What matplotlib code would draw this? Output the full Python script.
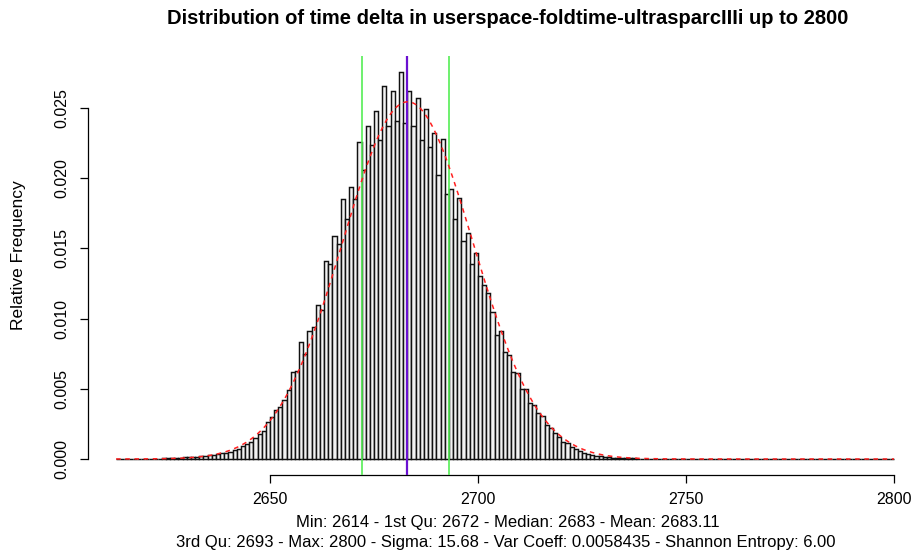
import numpy as np
import matplotlib
matplotlib.use("Agg")
import matplotlib.pyplot as plt

plt.rcParams['font.family'] = ['Liberation Sans', 'DejaVu Sans']

# value v is counted in bin (v-1, v]
values = np.arange(2614, 2801)
rel_freq = [
    0.00002, 0.00000, 0.00001, 0.00001, 0.00001, 0.00001, 0.00002, 0.00002, 0.00002, 0.00003,
    0.00003, 0.00004, 0.00005, 0.00006, 0.00008, 0.00010, 0.00011, 0.00013, 0.00015, 0.00017,
    0.00020, 0.00022, 0.00025, 0.00030, 0.00034, 0.00040, 0.00046, 0.00053, 0.00062, 0.00070,
    0.00090, 0.00105, 0.00120, 0.00150, 0.00180, 0.00200, 0.00260, 0.00300, 0.00350, 0.00370,
    0.00420, 0.00490, 0.00620, 0.00630, 0.00830, 0.00750, 0.00910, 0.00940, 0.01100, 0.01060,
    0.01410, 0.01390, 0.01590, 0.01530, 0.01850, 0.01710, 0.01940, 0.01850, 0.02255, 0.02060,
    0.02370, 0.02240, 0.02480, 0.02270, 0.02660, 0.02370, 0.02620, 0.02410, 0.02760, 0.02390,
    0.02620, 0.02370, 0.02570, 0.02270, 0.02490, 0.02220, 0.02320, 0.02020, 0.02280, 0.01890,
    0.01920, 0.01710, 0.01860, 0.01550, 0.01610, 0.01390, 0.01470, 0.01300, 0.01240, 0.01180,
    0.01050, 0.00880, 0.00910, 0.00760, 0.00740, 0.00620, 0.00610, 0.00500, 0.00500, 0.00400,
    0.00385, 0.00325, 0.00306, 0.00242, 0.00223, 0.00188, 0.00154, 0.00123, 0.00112, 0.00088,
    0.00071, 0.00057, 0.00045, 0.00036, 0.00029, 0.00024, 0.00021, 0.00017, 0.00013, 0.00010,
    0.00008, 0.00006, 0.00005, 0.00004, 0.00004, 0.00003, 0.00003, 0.00002, 0.00002, 0.00002,
    0.00002, 0.00001, 0.00001, 0.00001, 0.00001, 0.00001, 0.00001, 0.00001, 0.00001, 0.00001,
    0.00001, 0.00001, 0.00001, 0.00000, 0.00001, 0.00001, 0.00000, 0.00001, 0.00000, 0.00001,
    0.00000, 0.00001, 0.00000, 0.00000, 0.00001, 0.00000, 0.00000, 0.00001, 0.00000, 0.00000,
    0.00001, 0.00000, 0.00000, 0.00000, 0.00001, 0.00000, 0.00000, 0.00000, 0.00000, 0.00001,
    0.00000, 0.00000, 0.00000, 0.00000, 0.00000, 0.00001, 0.00000, 0.00000, 0.00000, 0.00000,
    0.00000, 0.00000, 0.00000, 0.00001, 0.00000, 0.00000, 0.00001,
]

stat_min, q1, median, mean, q3, stat_max = 2614, 2672, 2683, 2683.11, 2693, 2800
sigma = 15.68
var_coeff = 0.0058435
entropy = 6.00

x_ticks = [2650, 2700, 2750, 2800]
y_ticks = [0.000, 0.005, 0.010, 0.015, 0.020, 0.025]

W, H = 917, 558
fig = plt.figure(figsize=(W / 100, H / 100), dpi=100)
left_px, right_px, top_px, bot_px = 88, 922, 56, 474.5
ax = fig.add_axes([left_px / W, 1 - bot_px / H, (right_px - left_px) / W, (bot_px - top_px) / H])

# histogram bars (R style: bar for v spans v-1..v)
ax.bar(values - 1, rel_freq, width=1.0, align='edge', color='#f2f2f2',
       edgecolor='#111111', linewidth=1.05, zorder=2)

# fitted normal curve
xs = np.linspace(stat_min - 1, stat_max, 800)
curve = np.exp(-0.5 * ((xs - mean) / sigma) ** 2) / (sigma * np.sqrt(2 * np.pi))
ax.plot(xs, curve, color='#ff2020', linestyle=(0, (3, 3)), linewidth=1.1, zorder=4)

# quartile / median lines
for q in (q1, q3):
    ax.axvline(q, color='#55ee55', linewidth=1.2, zorder=3)
ax.axvline(median, color='#6a10d0', linewidth=1.6, zorder=3)

ymax = max(max(rel_freq), curve.max())
pad = 0.04 * ymax
ax.set_ylim(-pad, ymax + pad)
# x scale: 2650 -> 270 px, 2800 -> 894 px
ppu = (894 - 270) / 150
ax.set_xlim(2650 - (270 - left_px) / ppu, 2800 + (right_px - 894) / ppu)

for s in ('top', 'right'):
    ax.spines[s].set_visible(False)
ax.spines['left'].set_bounds(0, 0.025)
ax.spines['bottom'].set_bounds(2650, 2800)
ax.spines['left'].set_linewidth(0.9)
ax.spines['bottom'].set_linewidth(0.9)

ax.set_xticks(x_ticks)
ax.set_xticklabels([str(t) for t in x_ticks])
ax.set_yticks(y_ticks)
ax.set_yticklabels([f"{t:.3f}" for t in y_ticks], rotation=90, va='center')
ax.tick_params(axis='both', length=5.5, width=0.9, labelsize=11.5, colors='black')
ax.tick_params(axis='x', pad=7)
ax.tick_params(axis='y', pad=8)

fig.text(19 / W, 1 - 255 / H, 'Relative Frequency', rotation=90, ha='center', va='center', fontsize=12.5)
fig.text(508 / W, 1 - 18 / H,
         'Distribution of time delta in userspace-foldtime-ultrasparcIIIi up to 2800',
         ha='center', va='center', fontsize=14.5, fontweight='bold')
fig.text(508 / W, 1 - 523 / H,
         f'Min: {stat_min} - 1st Qu: {q1} - Median: {median} - Mean: {mean:.2f}',
         ha='center', va='center', fontsize=12)
fig.text(506 / W, 1 - 543 / H,
         f'3rd Qu: {q3} - Max: {stat_max} - Sigma: {sigma:.2f} - Var Coeff: {var_coeff:.7f} - Shannon Entropy: {entropy:.2f}',
         ha='center', va='center', fontsize=12)

fig.savefig('out.png', dpi=100)
